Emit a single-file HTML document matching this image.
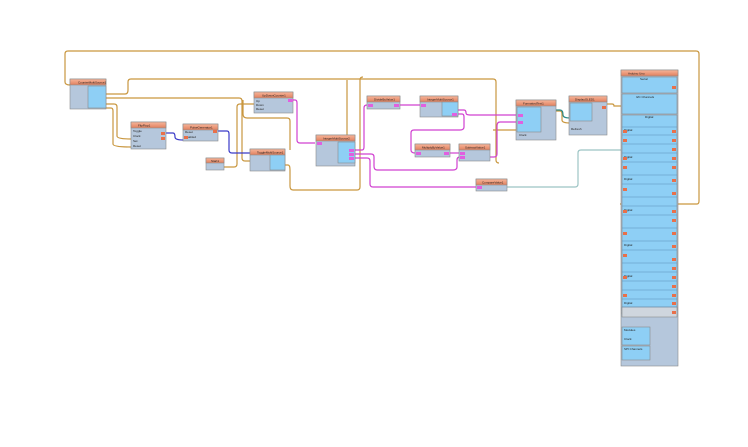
<!DOCTYPE html>
<html><head><style>
body{margin:0;background:#fff;width:748px;height:442px;overflow:hidden;font-family:"Liberation Sans",sans-serif}
svg text{font-family:"Liberation Sans",sans-serif;font-size:3px;fill:#222}
</style></head><body>
<svg width="748" height="442" viewBox="0 0 748 442" xmlns="http://www.w3.org/2000/svg">
<defs>
<linearGradient id="hd" x1="0" y1="0" x2="0" y2="1"><stop offset="0" stop-color="#f7b59a"/><stop offset="1" stop-color="#e0805e"/></linearGradient>
</defs>
<g fill="none" stroke-width="1.2">
<!-- orange wires -->
<g stroke="#c9973f">
<path d="M620,204 H697 Q699,204 699,201 V54 Q699,51 696,51 H68 Q65,51 65,54 V82 Q65,85 70,85"/>
<path d="M106,94 H125 Q128,94 128,90 V82 Q128,79 131,79 H493 Q496,79 496,82 V160 Q496,163 499,163"/>
<path d="M106,98 H239 Q242,98 242,101 V158 Q242,161 245,161 H266"/>
<path d="M106,104 H114 Q117,104 117,107 V136 Q117,139 131,139"/>
<path d="M106,108 H111 Q113,108 113,111 V144 Q113,147 131,147"/>
<path d="M224,167 H234 Q237,167 237,164 V107 Q237,104 240,104 H254"/>
<path d="M285,165 H288 Q290,165 290,170 V186 Q290,190 293,190 H357 Q360,190 360,187 V80 Q360,77 363,77"/>
<path d="M347,80 V147 Q347,150 350,150 H356"/>
<path d="M243,100 V114 Q243,118 247,118 H287 Q290,118 290,121 V150"/>
<path d="M493,130 H516"/>
<path d="M556,111 H560 Q562,111 562,114 V120 Q562,123 570,123"/>
<path d="M607,104 H612 Q614,104 614,106 H621"/>
</g>
<!-- blue -->
<path stroke="#3a3ac8" d="M166,133 H173 Q175,133 175,137 Q175,140 183,140"/>
<path stroke="#3a3ac8" d="M218,131 H227 Q229,131 229,134 V150 Q229,153 232,153 H250"/>
<!-- magenta -->
<g stroke="#d040d0">
<path d="M293,100 H295 Q297,100 297,103 V140 Q297,143 300,143 H315"/>
<path d="M355,150 H362 Q364,150 364,147 V108 Q364,105 367,105"/>
<path d="M400,105 H420"/>
<path d="M458,110 H464 Q466,110 466,113 Q466,115 470,115 H516"/>
<path d="M458,114 H462 Q464,114 464,117 V127 Q464,130 460,130 H414 Q411,130 411,133 V150 Q411,153 415,153"/>
<path d="M450,153 H459"/>
<path d="M490,157 H494 Q497,157 497,154 V126 Q497,122 500,122 H516"/>
<path d="M355,154 H371 Q374,154 374,157 V166 Q374,170 377,170 H453 Q457,170 457,167 V160 Q457,157 460,157"/>
<path d="M355,158 H367 Q370,158 370,161 V184 Q370,187 373,187 H476"/>
</g>
<path stroke="#9cc4c4" d="M507,187 H575 Q578,187 578,184 V153 Q578,150 581,150 H621"/>
<path stroke="#2a8a8a" d="M556,110 H560 Q563,110 563,115 Q563,118 570,118"/>
</g>

<!-- node template -->
<g stroke="#8a8a8a" stroke-width="0.6">
<!-- CounterMultiSource1 -->
<rect x="70" y="79" width="36" height="30" fill="#b5c7dc"/><rect x="70" y="79" width="36" height="6" fill="url(#hd)"/>
<rect x="88" y="86" width="18" height="22" fill="#8ecff5"/>
<!-- FlipFlop -->
<rect x="131" y="122" width="35" height="27" fill="#b5c7dc"/><rect x="131" y="122" width="35" height="6" fill="url(#hd)"/>
<!-- PulseGen -->
<rect x="183" y="124" width="35" height="17" fill="#b5c7dc"/><rect x="183" y="124" width="35" height="6" fill="url(#hd)"/>
<!-- UpDown -->
<rect x="254" y="92" width="39" height="21" fill="#b5c7dc"/><rect x="254" y="92" width="39" height="6" fill="url(#hd)"/>
<!-- Start -->
<rect x="206" y="158" width="18" height="12" fill="#b5c7dc"/><rect x="206" y="158" width="18" height="5" fill="url(#hd)"/>
<!-- ToggleMulti -->
<rect x="250" y="149" width="35" height="22" fill="#b5c7dc"/><rect x="250" y="149" width="35" height="6" fill="url(#hd)"/>
<rect x="270" y="155" width="15" height="15" fill="#8ecff5"/>
<!-- IntegerMulti2 -->
<rect x="316" y="135" width="39" height="31" fill="#b5c7dc"/><rect x="316" y="135" width="39" height="6" fill="url(#hd)"/>
<rect x="338" y="142" width="17" height="21" fill="#8ecff5"/>
<!-- Divide -->
<rect x="367" y="96" width="33" height="13" fill="#b5c7dc"/><rect x="367" y="96" width="33" height="6" fill="url(#hd)"/>
<!-- IntegerMulti1 -->
<rect x="420" y="96" width="38" height="21" fill="#b5c7dc"/><rect x="420" y="96" width="38" height="6" fill="url(#hd)"/>
<rect x="442" y="102" width="16" height="14" fill="#8ecff5"/>
<!-- Multiply -->
<rect x="415" y="144" width="35" height="13" fill="#b5c7dc"/><rect x="415" y="144" width="35" height="6" fill="url(#hd)"/>
<!-- Subtract -->
<rect x="459" y="144" width="31" height="17" fill="#b5c7dc"/><rect x="459" y="144" width="31" height="6" fill="url(#hd)"/>
<!-- Compare -->
<rect x="476" y="179" width="31" height="12" fill="#b5c7dc"/><rect x="476" y="179" width="31" height="6" fill="url(#hd)"/>
<!-- FormattedText -->
<rect x="516" y="100" width="40" height="40" fill="#b5c7dc"/><rect x="516" y="100" width="40" height="6" fill="url(#hd)"/>
<rect x="517" y="107" width="24" height="25" fill="#8ecff5"/>
<!-- DisplayOLED -->
<rect x="569" y="96" width="38" height="39" fill="#b5c7dc"/><rect x="569" y="96" width="38" height="6" fill="url(#hd)"/>
<rect x="570" y="103" width="22" height="18" fill="#8ecff5"/>
<!-- Arduino -->
<rect x="621" y="70" width="57" height="296" fill="#b5c7dc"/>
<rect x="621" y="70" width="57" height="6" fill="url(#hd)"/>
<rect x="622" y="77" width="55" height="16" fill="#8ecff5"/>
<rect x="622" y="94" width="55" height="20" fill="#8ecff5"/>
<rect x="622" y="115" width="55" height="196" fill="#8ecff5"/>
<rect x="622" y="312" width="10" height="2" fill="#d8d8d8"/>
<rect x="622" y="307" width="55" height="10" fill="#cfd6de"/>
<rect x="622" y="327" width="28" height="18" fill="#8ecff5"/>
<rect x="622" y="346" width="28" height="14" fill="#8ecff5"/>
</g>
<g stroke="#5a8fb8" stroke-width="0.5">
<path d="M622,127H677M622,135H677M622,144H677M622,153H677M622,162H677M622,175H677M622,184H677M622,197H677M622,206H677M622,215H677M622,228H677M622,241H677M622,250H677M622,263H677M622,272H677M622,281H677M622,290H677M622,299H677M622,307H677"/>
</g>
<g>
<text x="78" y="83.5">CounterMultiSource1</text>
<text x="138" y="126.5">FlipFlop1</text>
<text x="190" y="128.5">PulseGenerator1</text>
<text x="262" y="96.5">UpDownCounter1</text>
<text x="211" y="162">Start1</text>
<text x="257" y="153.5">ToggleMultiSource1</text>
<text x="323" y="139.5">IntegerMultiSource2</text>
<text x="374" y="100.5">DivideByValue1</text>
<text x="427" y="100.5">IntegerMultiSource1</text>
<text x="422" y="148.5">MultiplyByValue1</text>
<text x="465" y="148.5">SubtractValue1</text>
<text x="482" y="183.5">CompareValue1</text>
<text x="523" y="104.5">FormattedText1</text>
<text x="575" y="100.5">DisplayOLED1</text>
<text x="628" y="74.5">Arduino Uno</text>
<text x="133" y="132">Toggle</text><text x="133" y="137">Clock</text><text x="133" y="142">Set</text><text x="133" y="147">Reset</text>
<text x="185" y="133">Reset</text><text x="185" y="138">Enabled</text>
<text x="256" y="102">Up</text><text x="256" y="106">Down</text><text x="256" y="110">Reset</text>
<text x="519" y="136">Clock</text><text x="571" y="130">Refresh</text>
<text x="640" y="80">Serial</text><text x="636" y="98">I2C Channels</text><text x="645" y="118">Digital</text>
<text x="624" y="131">Digital</text><text x="624" y="158">Digital</text><text x="624" y="180">Digital</text><text x="624" y="211">Digital</text><text x="624" y="246">Digital</text><text x="624" y="277">Digital</text><text x="624" y="304">Digital</text>
<text x="624" y="331">Modules</text><text x="624" y="340">Clock</text><text x="624" y="350">SPI Channels</text>
</g>
<g fill="#e8704a">
<rect x="672" y="86" width="4" height="3"/><rect x="672" y="130" width="4" height="3"/><rect x="672" y="139" width="4" height="3"/><rect x="672" y="148" width="4" height="3"/><rect x="672" y="157" width="4" height="3"/><rect x="672" y="166" width="4" height="3"/><rect x="672" y="179" width="4" height="3"/><rect x="672" y="192" width="4" height="3"/><rect x="672" y="210" width="4" height="3"/><rect x="672" y="219" width="4" height="3"/><rect x="672" y="232" width="4" height="3"/><rect x="672" y="245" width="4" height="3"/><rect x="672" y="258" width="4" height="3"/><rect x="672" y="267" width="4" height="3"/><rect x="672" y="276" width="4" height="3"/><rect x="672" y="285" width="4" height="3"/><rect x="672" y="294" width="4" height="3"/><rect x="672" y="302" width="4" height="3"/><rect x="672" y="311" width="4" height="3"/>
<rect x="623" y="130" width="4" height="3"/><rect x="623" y="139" width="4" height="3"/><rect x="623" y="157" width="4" height="3"/><rect x="623" y="166" width="4" height="3"/><rect x="623" y="188" width="4" height="3"/><rect x="623" y="210" width="4" height="3"/><rect x="623" y="232" width="4" height="3"/><rect x="623" y="254" width="4" height="3"/><rect x="623" y="276" width="4" height="3"/><rect x="623" y="294" width="4" height="3"/>
<rect x="161" y="132" width="4" height="3"/><rect x="161" y="137" width="4" height="3"/><rect x="213" y="130" width="4" height="3"/><rect x="184" y="136" width="4" height="3"/><rect x="602" y="106" width="4" height="3"/>
</g>
<g fill="#e060e0">
<rect x="288" y="99" width="5" height="3"/><rect x="317" y="142" width="5" height="3"/><rect x="349" y="149" width="5" height="3"/><rect x="349" y="153" width="5" height="3"/><rect x="349" y="157" width="5" height="3"/><rect x="368" y="104" width="5" height="3"/><rect x="394" y="104" width="5" height="3"/><rect x="421" y="104" width="5" height="3"/><rect x="452" y="113" width="5" height="3"/><rect x="416" y="152" width="5" height="3"/><rect x="444" y="152" width="5" height="3"/><rect x="460" y="152" width="5" height="3"/><rect x="460" y="156" width="5" height="3"/><rect x="477" y="186" width="5" height="3"/><rect x="518" y="114" width="5" height="3"/><rect x="518" y="121" width="5" height="3"/>
</g>
</svg>
</body></html>
